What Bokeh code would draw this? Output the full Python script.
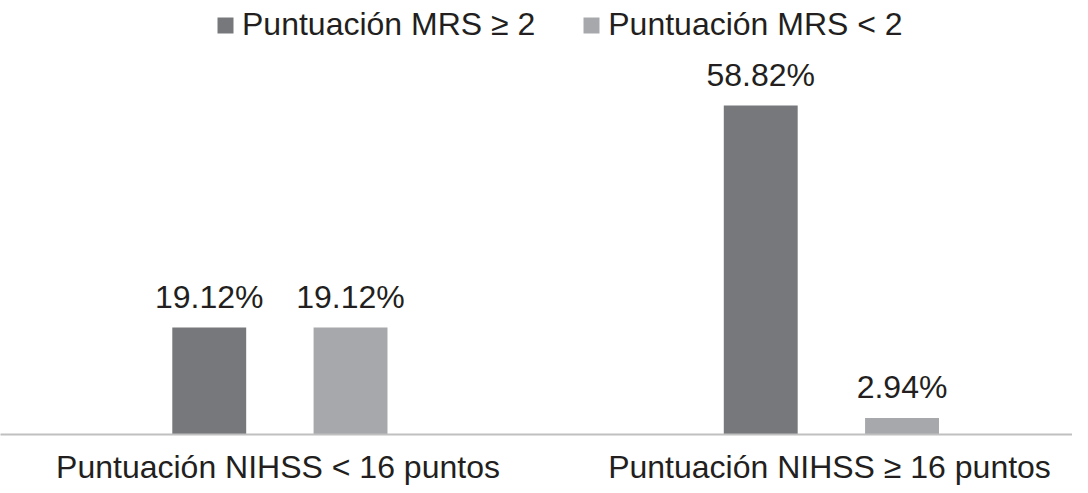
import numpy as np
from bokeh.plotting import figure
from bokeh.models import ColumnDataSource, Range1d, Legend, LegendItem, FixedTicker
from bokeh.core.properties import value
from bokeh.embed import file_html
from bokeh.resources import INLINE

categories = ["Puntuación NIHSS < 16 puntos", "Puntuación NIHSS ≥ 16 puntos"]
series_names = ["Puntuación MRS ≥ 2", "Puntuación MRS < 2"]
mrs_ge2 = [19.12, 58.82]
mrs_lt2 = [19.12, 2.94]
label_ge2 = ["19.12%", "58.82%"]
label_lt2 = ["19.12%", "2.94%"]

DARK = "#77787b"
LIGHT = "#a7a8ab"
FONT = "Liberation Sans"
TEXT = "#231f20"

pos = np.arange(len(categories)) + 0.5
d_off, l_off, w = -0.1247, 0.1315, 0.134

src = ColumnDataSource(dict(xd=pos + d_off, xl=pos + l_off, ge2=mrs_ge2, lt2=mrs_lt2,
                            lge2=label_ge2, llt2=label_lt2))

W, H = 1072, 487
FRAME_H = 434
ymax = max(mrs_ge2 + mrs_lt2) * FRAME_H / (FRAME_H - 105)

p = figure(x_range=Range1d(-0.0032, 1.9406), y_range=Range1d(0, ymax),
           width=W, height=H, output_backend="svg", toolbar_location=None,
           min_border_left=0, min_border_right=0, min_border_top=0, min_border_bottom=0)
p.outline_line_color = None
p.xgrid.grid_line_color = None
p.ygrid.grid_line_color = None
p.yaxis.visible = False
p.background_fill_color = "white"
p.border_fill_color = "white"

r1 = p.vbar(x="xd", top="ge2", width=w, source=src, fill_color=DARK, line_color=None)
r2 = p.vbar(x="xl", top="lt2", width=w, source=src, fill_color=LIGHT, line_color=None)

for xc, col, lab in [("xd", "ge2", "lge2"), ("xl", "lt2", "llt2")]:
    p.text(x=xc, y=col, text=lab, source=src,
           text_align="center", text_baseline="bottom", y_offset=-13,
           text_font=value(FONT), text_font_size="32px", text_color=TEXT)

ax = p.xaxis[0]
ax.ticker = FixedTicker(ticks=list(pos))
ax.major_label_overrides = {float(x): c for x, c in zip(pos, categories)}
ax.axis_line_color = "#c0c0c0"
ax.axis_line_width = 2
ax.major_tick_line_color = None
ax.minor_tick_line_color = None
ax.major_tick_out = 0
ax.major_tick_in = 0
ax.major_label_standoff = 14
ax.major_label_text_font = FONT
ax.major_label_text_font_size = "32px"
ax.major_label_text_color = TEXT

legend = Legend(items=[LegendItem(label=series_names[0], renderers=[r1]),
                       LegendItem(label=series_names[1], renderers=[r2])],
                orientation="horizontal", location=(215, FRAME_H - 5 - 38))
legend.label_text_font = FONT
legend.label_text_font_size = "32px"
legend.label_text_color = TEXT
legend.glyph_width = 20
legend.glyph_height = 20
legend.label_standoff = 7
legend.spacing = 46
legend.padding = 0
legend.margin = 0
legend.border_line_color = None
legend.background_fill_alpha = 0
p.add_layout(legend)

open("out.html", "w").write(file_html(p, INLINE))
